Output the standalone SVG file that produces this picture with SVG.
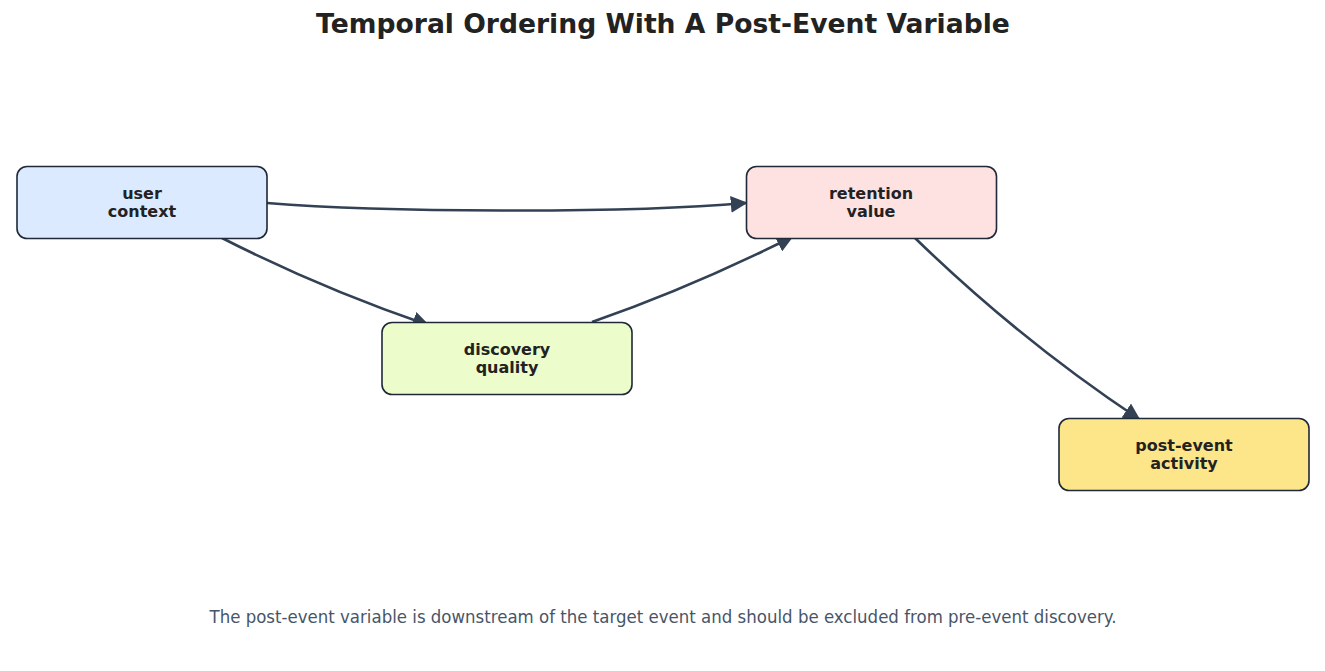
<svg xmlns="http://www.w3.org/2000/svg" width="1325" height="671" viewBox="0 0 1325 671">
<style>
.node{stroke:#1f2937;stroke-width:1.6}
.lbl{font-family:"DejaVu Sans",sans-serif;font-weight:bold;font-size:16px;fill:#222;text-anchor:middle}
.edge{fill:none;stroke:#334155;stroke-width:2.6;marker-end:url(#ah)}
</style>
<defs>
<marker id="ah" viewBox="0 0 10 10" refX="9" refY="5" markerWidth="6.5" markerHeight="6.5" orient="auto" markerUnits="strokeWidth">
<path d="M0,0 L10,5 L0,10 z" fill="#334155"/>
</marker>
</defs>
<rect width="1325" height="671" fill="#ffffff"/>
<text x="663" y="33" font-family="DejaVu Sans,sans-serif" font-weight="bold" font-size="26.6" fill="#222" text-anchor="middle">Temporal Ordering With A Post-Event Variable</text>
<g id="connectors">
<path class="edge" d="M267,203 C380,212 620,214 746,203"/>
<path class="edge" d="M222,238 Q320,288 428,325"/>
<path class="edge" d="M592,322 Q690,288 792,237"/>
<path class="edge" d="M915,238 Q1020,340 1139,419"/>
</g>
<g id="user_context">
<rect class="node" x="17" y="166.5" width="250" height="72" rx="10" fill="#dbeafe"/>
<text class="lbl" x="142" y="199">user</text>
<text class="lbl" x="142" y="217">context</text>
</g>
<g id="discovery_quality">
<rect class="node" x="382" y="322.5" width="250" height="72" rx="10" fill="#ecfccb"/>
<text class="lbl" x="507" y="355">discovery</text>
<text class="lbl" x="507" y="373">quality</text>
</g>
<g id="retention_value">
<rect class="node" x="746.5" y="166.5" width="250" height="72" rx="10" fill="#fee2e2"/>
<text class="lbl" x="871" y="199">retention</text>
<text class="lbl" x="871" y="217">value</text>
</g>
<g id="post_event_activity">
<rect class="node" x="1059" y="418.5" width="250" height="72" rx="10" fill="#fde68a"/>
<text class="lbl" x="1184" y="451">post-event</text>
<text class="lbl" x="1184" y="469">activity</text>
</g>
<text x="663" y="623" font-family="DejaVu Sans,sans-serif" font-size="17" fill="#475569" text-anchor="middle" textLength="907" lengthAdjust="spacingAndGlyphs">The post-event variable is downstream of the target event and should be excluded from pre-event discovery.</text>
</svg>
